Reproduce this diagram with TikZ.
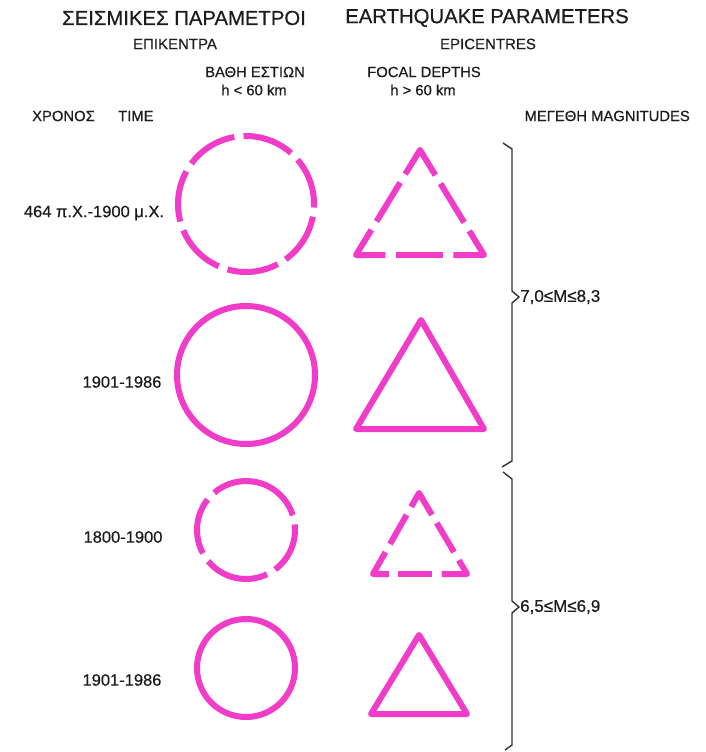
\documentclass[tikz,border=0pt]{standalone}
\usepackage{fontspec}
\setmainfont[FakeBold=0.45]{Liberation Sans}
\usetikzlibrary{calc}
\definecolor{mag}{RGB}{240,60,200}
\definecolor{ink}{RGB}{28,28,28}
\tikzset{
  shapeline/.style={draw=mag, line width=6pt, line join=round},
  dashpiece/.style={draw=mag, line width=6pt, line join=round, line cap=butt},
  bracel/.style={draw=ink!90, line width=1.4pt, line join=miter},
  txt/.style={text=ink, inner sep=0pt},
  titlef/.style={txt, font=\fontsize{20.3}{22}\selectfont},
  subf/.style={txt, font=\fontsize{15}{17}\selectfont},
  headf/.style={txt, font=\fontsize{14.8}{17}\selectfont},
  rowf/.style={txt, font=\fontsize{16.5}{18}\selectfont},
  magf/.style={txt, font=\fontsize{17}{19}\selectfont, anchor=west},
}
\newcommand{\DashTri}[7]{%
  \draw[dashpiece] ($(#1)!#5!(#2)$) -- ($(#1)!#6!(#2)$);
  \draw[dashpiece] ($(#2)!#5!(#3)$) -- ($(#2)!#6!(#3)$);
  \draw[dashpiece] ($(#3)!#5!(#1)$) -- ($(#3)!#6!(#1)$);
  \draw[dashpiece] ($(#3)!#7!(#1)$) -- (#1) -- ($(#1)!#4!(#2)$);
  \draw[dashpiece] ($(#1)!#7!(#2)$) -- (#2) -- ($(#2)!#4!(#3)$);
  \draw[dashpiece] ($(#2)!#7!(#3)$) -- (#3) -- ($(#3)!#4!(#1)$);
}
\begin{document}
\begin{tikzpicture}[x=1pt,y=1pt]
\fill[white] (0,0) rectangle (706,-752);
\useasboundingbox (0,0) rectangle (706,-752);

% headings
\node[titlef] (tgr) at (184,-18) {ΣΕΙΣΜΙΚΕΣ ΠΑΡΑΜΕΤΡΟΙ};
\node[titlef] (ten) at (487,-18) {EARTHQUAKE PARAMETERS};
\node[subf] (sgr) at (175,-44) {ΕΠΙΚΕΝΤΡΑ};
\node[subf] (sen) at (488,-44) {EPICENTRES};
\node[headf] (dgr) at (255,-72) {ΒΑΘΗ ΕΣΤΙΩΝ};
\node[headf] (hgr) at (254,-90) {h < 60 km};
\node[headf] (den) at (424,-72) {FOCAL DEPTHS};
\node[headf] (hen) at (423,-90) {h > 60 km};
\node[headf, anchor=west] (xgr) at (32,-116) {ΧΡΟΝΟΣ};
\node[headf, anchor=west] (xen) at (118,-116) {TIME};
\node[headf, anchor=east] (mm) at (690,-116) {ΜΕΓΕΘΗ MAGNITUDES};

% row labels
\node[rowf] (r1) at (94,-213) {464 π.Χ.-1900 μ.Χ.};
\node[rowf] (r2) at (122,-382) {1901-1986};
\node[rowf] (r3) at (123,-537) {1800-1900};
\node[rowf] (r4) at (122,-680) {1901-1986};

% shape anchors
\coordinate (c1) at (246,-204);
\coordinate (c2) at (246,-375);
\coordinate (c3) at (246,-530);
\coordinate (c4) at (246,-668);
\coordinate (t1a) at (420,-150); \coordinate (t1b) at (356,-255); \coordinate (t1c) at (484,-255);
\coordinate (t2a) at (421,-320); \coordinate (t2b) at (356,-429); \coordinate (t2c) at (484,-429);
\coordinate (t3a) at (419,-493); \coordinate (t3b) at (373,-574); \coordinate (t3c) at (467,-574);
\coordinate (t4a) at (419,-635); \coordinate (t4b) at (371,-714); \coordinate (t4c) at (467,-714);

% row 1: dashed circle and triangle
\foreach \k in {0,...,6}{
  \pgfmathsetmacro\sa{96+\k*360/7+3.9}
  \pgfmathsetmacro\ea{96+(\k+1)*360/7-3.9}
  \draw[dashpiece] ($(c1)+(\sa:68)$) arc[start angle=\sa, end angle=\ea, radius=68];
}
\DashTri{t1a}{t1b}{t1c}{0.23}{0.31}{0.68}{0.76}

% row 2: solid
\draw[shapeline] (c2) circle[radius=69];
\draw[shapeline] (t2a) -- (t2b) -- (t2c) -- cycle;

% row 3: dashed small
\foreach \sa/\ea in {17.5/130.5, 141.5/208.5, 219.5/295.5, 306.5/366.5}{
  \draw[dashpiece] ($(c3)+(\sa:49)$) arc[start angle=\sa, end angle=\ea, radius=49];
}
\DashTri{t3a}{t3b}{t3c}{0.17}{0.27}{0.63}{0.73}

% row 4: solid small
\draw[shapeline] (c4) circle[radius=49];
\draw[shapeline] (t4a) -- (t4b) -- (t4c) -- cycle;

% braces
\coordinate (b1top) at (503,-143);
\coordinate (b1tip) at (519,-297);
\coordinate (b1bot) at (502,-467);
\coordinate (b2top) at (503,-472);
\coordinate (b2tip) at (519,-607);
\coordinate (b2bot) at (505,-750);
\draw[bracel] (b1top) -- (512,-149) -- (512,-291) -- (b1tip) -- (512,-303) -- (512,-461) -- (b1bot);
\draw[bracel] (b2top) -- (512,-479) -- (512,-601) -- (b2tip) -- (512,-613) -- (512,-745) -- (b2bot);
\node[magf] (m1) at ([xshift=1pt]b1tip) {7,0≤M≤8,3};
\node[magf] (m2) at ([xshift=1pt]b2tip) {6,5≤M≤6,9};
\end{tikzpicture}
\end{document}
